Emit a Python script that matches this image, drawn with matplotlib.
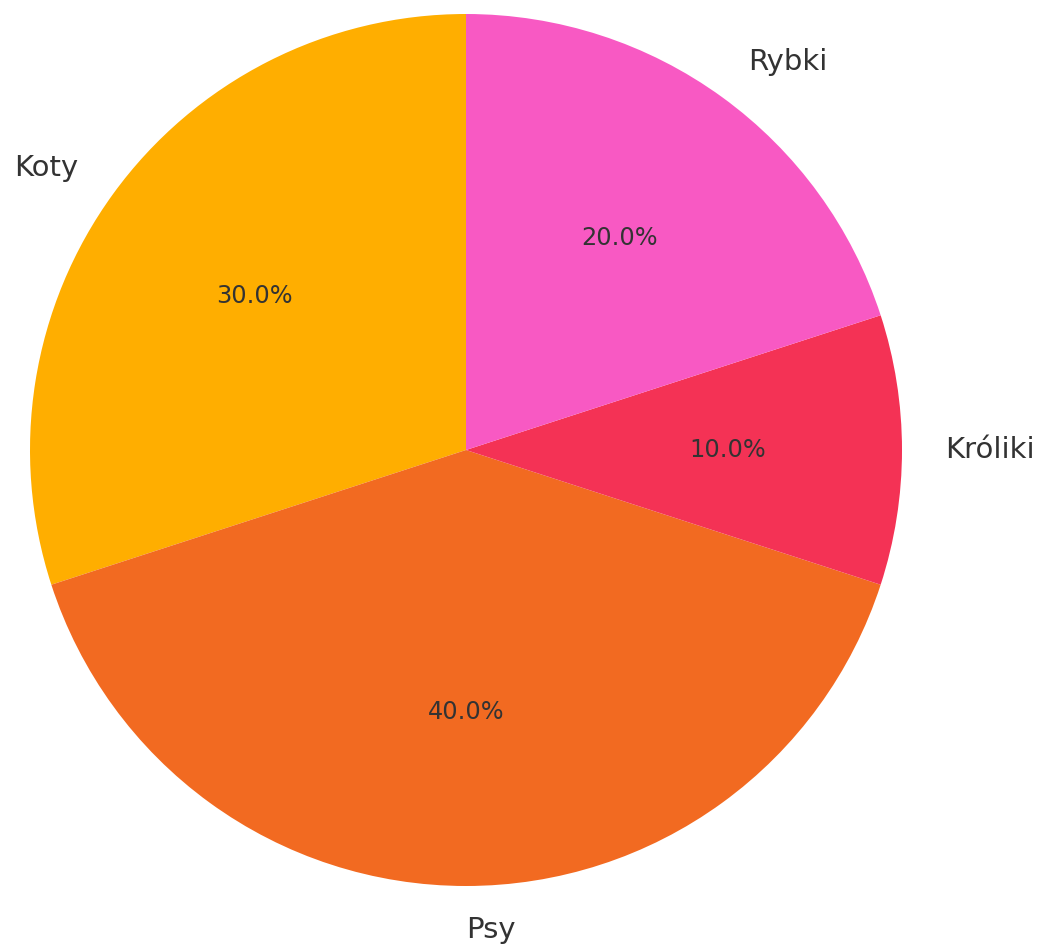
import matplotlib
matplotlib.use("Agg")
import matplotlib.pyplot as plt

labels = ["Koty", "Psy", "Króliki", "Rybki"]
shares = [30, 40, 10, 20]
colors = ["#FFAE00", "#F26A21", "#F43255", "#F859C3"]

fig = plt.figure(figsize=(10.44, 9.5), dpi=100)
ax = fig.add_axes([30 / 1044, 64 / 950, 872 / 1044, 872 / 950])

wedges, texts, autotexts = ax.pie(
    shares, labels=labels, colors=colors, autopct="%1.1f%%",
    startangle=90, counterclock=True, labeldistance=1.1, pctdistance=0.6,
    textprops={"color": "#333333"},
)
for t in texts:
    t.set_fontsize(21)
for t in autotexts:
    t.set_fontsize(17.3)

ax.set_xlim(-1, 1)
ax.set_ylim(-1, 1)
ax.set_aspect("auto")
ax.axis("off")

fig.savefig("out.png", dpi=100)
